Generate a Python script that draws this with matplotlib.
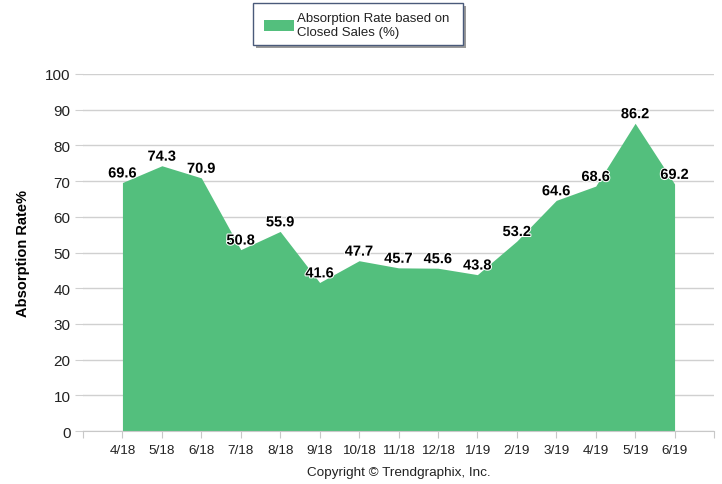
import matplotlib
matplotlib.use("Agg")
import matplotlib.pyplot as plt
from matplotlib.patches import Rectangle
import matplotlib.patheffects as pe

plt.rcParams['font.family'] = ['Liberation Sans', 'DejaVu Sans']

months = ["4/18", "5/18", "6/18", "7/18", "8/18", "9/18", "10/18", "11/18",
          "12/18", "1/19", "2/19", "3/19", "4/19", "5/19", "6/19"]
rates = [69.6, 74.3, 70.9, 50.8, 55.9, 41.6, 47.7, 45.7, 45.6, 43.8,
         53.2, 64.6, 68.6, 86.2, 69.2]
yticks = [0, 10, 20, 30, 40, 50, 60, 70, 80, 90, 100]

green = "#53bf7d"
fig = plt.figure(figsize=(7.22, 4.85), dpi=100)
ax = fig.add_axes([83/722, 1-432/485, (714-83)/722, (432-75)/485])

x = list(range(len(months)))
ax.fill_between(x, 0, rates, color=green, lw=0, zorder=2)

ax.set_xlim(-1, len(months))
ax.set_ylim(0, 100)
ax.set_yticks(yticks)
ax.set_yticklabels([str(t) for t in yticks], fontsize=11, color="#222222")
ax.yaxis.grid(True, color="#d0d0d0", lw=1, zorder=0)
ax.set_axisbelow(True)
ax.tick_params(axis='y', length=6, color="#d0d0d0", pad=3)

ax.set_xticks(list(range(-1, len(months) + 1)))
ax.set_xticklabels([""] + months + [""], fontsize=9.7, color="#222222")
ax.tick_params(axis='x', length=5, color="#c8c8c8", pad=4)

for s in ["top", "right", "left"]:
    ax.spines[s].set_visible(False)
ax.spines["bottom"].set_color("#c8c8c8")

ax.set_ylabel("Absorption Rate%", fontsize=10.5, fontweight="bold", labelpad=11)

for xi, v in zip(x, rates):
    ax.annotate(f"{v}", (xi, v), xytext=(0, 1.5), textcoords="offset points",
                ha="center", va="bottom", fontsize=10.5, fontweight="bold",
                color="black", zorder=5,
                path_effects=[pe.withStroke(linewidth=1.5, foreground="white")])

# legend box with shadow
shadow = Rectangle((256/722, 1-49/485), 210/722, 42/485, transform=fig.transFigure,
                   facecolor="#9a9a9a", edgecolor="none", zorder=1)
box = Rectangle((253/722, 1-46/485), 210/722, 42/485, transform=fig.transFigure,
                facecolor="white", edgecolor="#4a5a7a", lw=1, zorder=2)
fig.patches.extend([shadow, box])
sw = Rectangle((264/722, 1-32/485), 30/722, 11/485, transform=fig.transFigure,
               facecolor=green, edgecolor="none", zorder=3)
fig.patches.append(sw)
fig.text(297/722, 1-26/485, "Absorption Rate based on\nClosed Sales (%)",
         fontsize=9.5, va="center", ha="left", color="#222222", linespacing=1.2, zorder=4)

fig.text(399/722, 1-473/485, "Copyright \u00a9 Trendgraphix, Inc.", fontsize=9.7,
         ha="center", va="center", color="#222222")

fig.savefig("out.png", dpi=100)
